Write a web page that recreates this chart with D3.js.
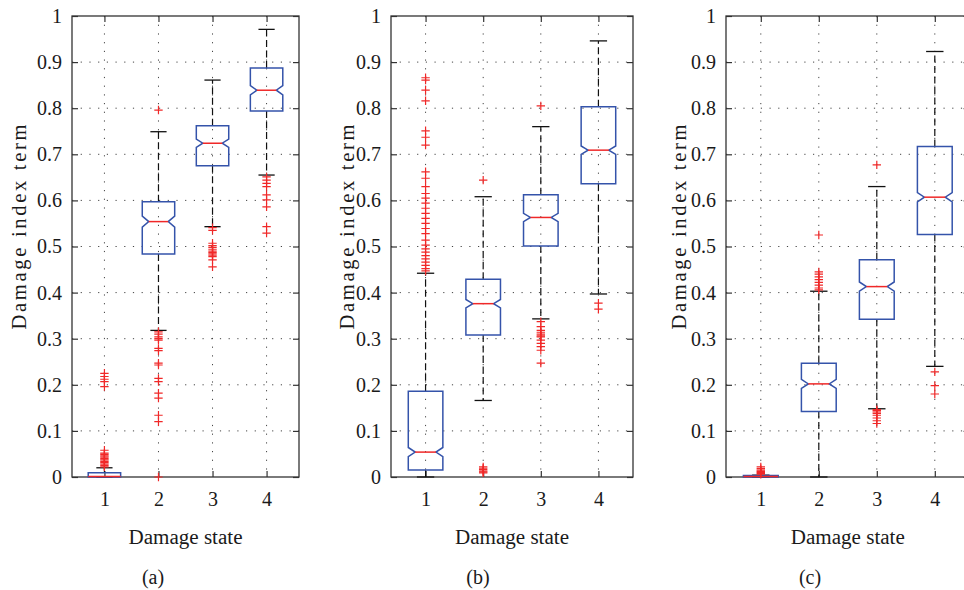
<!DOCTYPE html>
<html><head><meta charset="utf-8">
<script src="https://cdn.jsdelivr.net/npm/d3@7"></script>
<style>
body{margin:0;background:#fff}
text{font-family:"Liberation Serif","Times New Roman",serif;fill:#1a1a1a}
</style>
</head><body>
<svg id="chart" width="964" height="590"></svg>
<script>
// ---------- data ----------
const categories = [1, 2, 3, 4];
const yTickValues = [0, 0.1, 0.2, 0.3, 0.4, 0.5, 0.6, 0.7, 0.8, 0.9, 1];
const yTickLabels = ["0", "0.1", "0.2", "0.3", "0.4", "0.5", "0.6", "0.7", "0.8", "0.9", "1"];
const xLabel = "Damage state";
const yLabel = "Damage index term";
const panelNames = ["(a)", "(b)", "(c)"];

// panel (a)
const aQ1 = [0.000, 0.484, 0.675, 0.794];
const aMed = [0.001, 0.554, 0.724, 0.839];
const aQ3 = [0.009, 0.597, 0.762, 0.887];
const aLoW = [0.000, 0.318, 0.543, 0.655];
const aHiW = [0.020, 0.749, 0.861, 0.971];
const aNotch = [0, 0.012, 0.009, 0.010];
const aOut1 = [0.225, 0.218, 0.212, 0.207, 0.196, 0.058, 0.052, 0.049, 0.046, 0.043, 0.040, 0.037, 0.034, 0.031, 0.028, 0.025, 0.022];
const aOut2 = [0.796, 0.315, 0.310, 0.304, 0.300, 0.297, 0.279, 0.274, 0.247, 0.243, 0.214, 0.207, 0.182, 0.171, 0.134, 0.120, 0.000];
const aOut3 = [0.541, 0.535, 0.507, 0.502, 0.498, 0.494, 0.490, 0.487, 0.484, 0.481, 0.478, 0.471, 0.456];
const aOut4 = [0.651, 0.644, 0.637, 0.630, 0.612, 0.601, 0.586, 0.543, 0.529];

// panel (b)
const bQ1 = [0.015, 0.308, 0.501, 0.636];
const bMed = [0.054, 0.376, 0.563, 0.709];
const bQ3 = [0.186, 0.429, 0.612, 0.803];
const bLoW = [0.000, 0.166, 0.343, 0.397];
const bHiW = [0.442, 0.608, 0.760, 0.946];
const bNotch = [0.010, 0.009, 0.009, 0.009];
const bOut1 = [0.866, 0.861, 0.839, 0.816, 0.751, 0.737, 0.720, 0.662, 0.648, 0.630, 0.615, 0.605, 0.594, 0.583, 0.572, 0.561, 0.550, 0.539, 0.528, 0.514, 0.503, 0.495, 0.488, 0.480, 0.473, 0.466, 0.459, 0.452, 0.447];
const bOut2 = [0.644, 0.022, 0.019, 0.016, 0.013, 0.011, 0.009];
const bOut3 = [0.805, 0.337, 0.326, 0.318, 0.314, 0.310, 0.306, 0.304, 0.297, 0.290, 0.283, 0.275, 0.247];
const bOut4 = [0.377, 0.364];

// panel (c)
const cQ1 = [0.000, 0.142, 0.342, 0.526];
const cMed = [0.001, 0.202, 0.413, 0.607];
const cQ3 = [0.003, 0.247, 0.471, 0.717];
const cLoW = [0.000, 0.000, 0.148, 0.240];
const cHiW = [0.004, 0.403, 0.630, 0.923];
const cNotch = [0, 0.010, 0.010, 0.010];
const cOut1 = [0.022, 0.018, 0.015, 0.012, 0.010, 0.008, 0.006];
const cOut2 = [0.525, 0.445, 0.440, 0.434, 0.428, 0.422, 0.416, 0.410, 0.406];
const cOut3 = [0.677, 0.146, 0.144, 0.141, 0.138, 0.134, 0.128, 0.122, 0.116];
const cOut4 = [0.228, 0.198, 0.180];

// ---------- layout ----------
const panels = [
  {q1: aQ1, med: aMed, q3: aQ3, lo: aLoW, hi: aHiW, notch: aNotch, out: [aOut1, aOut2, aOut3, aOut4],
   left: 72, right: 299, yLabX: 19, nameX: 153},
  {q1: bQ1, med: bMed, q3: bQ3, lo: bLoW, hi: bHiW, notch: bNotch, out: [bOut1, bOut2, bOut3, bOut4],
   left: 391, right: 633, yLabX: 347, nameX: 478},
  {q1: cQ1, med: cMed, q3: cQ3, lo: cLoW, hi: cHiW, notch: cNotch, out: [cOut1, cOut2, cOut3, cOut4],
   left: 726, right: 969.6, yLabX: 679, nameX: 810}
];
const plotTop = 16, plotBottom = 477;
const blue = "#3453aa", red = "#f02828", frameCol = "#333";
const serif = '"Liberation Serif","Times New Roman",serif';
const fontTick = 20, fontLab = 20, fontYLab = 20.5;

const svg = d3.select("#chart");

panels.forEach((p, pi) => {
  const x = d3.scaleLinear().domain([0.4, 4.6]).range([p.left, p.right]);
  const y = d3.scaleLinear().domain([0, 1]).range([plotBottom, plotTop]);
  const g = svg.append("g");

  // grid
  g.append("g").selectAll("line").data(yTickValues.slice(1, -1)).join("line")
    .attr("x1", p.left).attr("x2", p.right).attr("y1", d => y(d)).attr("y2", d => y(d))
    .attr("stroke", "#444").attr("stroke-width", 1).attr("stroke-dasharray", "1.2,7.5");
  g.append("g").selectAll("line").data(categories).join("line")
    .attr("x1", d => x(d)).attr("x2", d => x(d)).attr("y1", plotTop).attr("y2", plotBottom)
    .attr("stroke", "#444").attr("stroke-width", 1).attr("stroke-dasharray", "1.2,7.5");

  // axes
  const ax = (sel) => {
    sel.select(".domain").remove();
    sel.attr("font-family", serif).attr("font-size", fontTick);
    sel.selectAll(".tick line").attr("stroke", frameCol).attr("stroke-width", 1.2);
    sel.selectAll(".tick text").style("font-family", serif).style("font-size", fontTick + "px").attr("fill", "#1a1a1a");
  };
  g.append("g").attr("transform", `translate(${p.left},0)`)
    .call(d3.axisLeft(y).tickValues(yTickValues).tickFormat((d, i) => yTickLabels[i]).tickSize(-6).tickPadding(10))
    .call(ax);
  g.append("g").attr("transform", `translate(${p.right},0)`)
    .call(d3.axisRight(y).tickValues(yTickValues).tickFormat("").tickSize(-6)).call(ax);
  g.append("g").attr("transform", `translate(0,${plotTop})`)
    .call(d3.axisTop(x).tickValues(categories).tickFormat("").tickSize(-6)).call(ax);
  g.append("g").attr("transform", `translate(0,${plotBottom})`)
    .call(d3.axisBottom(x).tickValues(categories).tickFormat(d3.format("d")).tickSize(-6).tickPadding(15))
    .call(ax);

  // frame
  g.append("rect").attr("x", p.left).attr("y", plotTop).attr("width", p.right - p.left).attr("height", plotBottom - plotTop)
    .attr("fill", "none").attr("stroke", frameCol).attr("stroke-width", 1.3);

  // boxes
  const hw = x(1.3) - x(1);
  categories.forEach((c, i) => {
    const cx = x(c);
    const q1 = p.q1[i], q3 = p.q3[i], md = p.med[i], n = p.notch[i];
    const nHi = Math.min(md + n, q3), nLo = Math.max(md - n, q1);
    const nw = n > 0 ? hw * 0.6 : hw;
    // whiskers
    g.append("line").attr("x1", cx).attr("x2", cx).attr("y1", y(q3)).attr("y2", y(p.hi[i]))
      .attr("stroke", "#111").attr("stroke-width", 1.2).attr("stroke-dasharray", "7,3.5");
    g.append("line").attr("x1", cx).attr("x2", cx).attr("y1", y(q1)).attr("y2", y(p.lo[i]))
      .attr("stroke", "#111").attr("stroke-width", 1.2).attr("stroke-dasharray", "7,3.5");
    [p.hi[i], p.lo[i]].forEach(v => {
      g.append("line").attr("x1", cx - hw / 2).attr("x2", cx + hw / 2).attr("y1", y(v)).attr("y2", y(v))
        .attr("stroke", "#111").attr("stroke-width", 1.3);
    });
    const pts = [[cx - hw, y(q3)], [cx + hw, y(q3)], [cx + hw, y(nHi)], [cx + nw, y(md)], [cx + hw, y(nLo)],
      [cx + hw, y(q1)], [cx - hw, y(q1)], [cx - hw, y(nLo)], [cx - nw, y(md)], [cx - hw, y(nHi)]];
    g.append("path").attr("d", d3.line()(pts) + "Z").attr("fill", "none")
      .attr("stroke", blue).attr("stroke-width", 1.5).attr("stroke-linejoin", "miter");
    g.append("line").attr("x1", cx - nw).attr("x2", cx + nw).attr("y1", y(md)).attr("y2", y(md))
      .attr("stroke", red).attr("stroke-width", 1.5);
    // outliers
    const s = 4.2;
    g.append("g").selectAll("path").data(p.out[i]).join("path")
      .attr("d", v => `M${cx - s},${y(v)}H${cx + s}M${cx},${y(v) - s}V${y(v) + s}`)
      .attr("stroke", red).attr("stroke-width", 1.2).attr("fill", "none");
  });

  // labels
  g.append("text").attr("x", (p.left + p.right) / 2).attr("y", 537).attr("dy", "0.35em")
    .attr("text-anchor", "middle").style("font-size", fontLab + "px")
    .attr("textLength", 114).attr("lengthAdjust", "spacingAndGlyphs").text(xLabel);
  g.append("text").attr("transform", `translate(${p.yLabX},227) rotate(-90)`).attr("dy", "0.35em")
    .attr("text-anchor", "middle").style("font-size", fontYLab + "px")
    .attr("textLength", 205).attr("lengthAdjust", "spacing").text(yLabel);
  g.append("text").attr("x", p.nameX).attr("y", 577).attr("dy", "0.35em")
    .attr("text-anchor", "middle").style("font-size", fontLab + "px").text(panelNames[pi]);
});
</script>
</body></html>
